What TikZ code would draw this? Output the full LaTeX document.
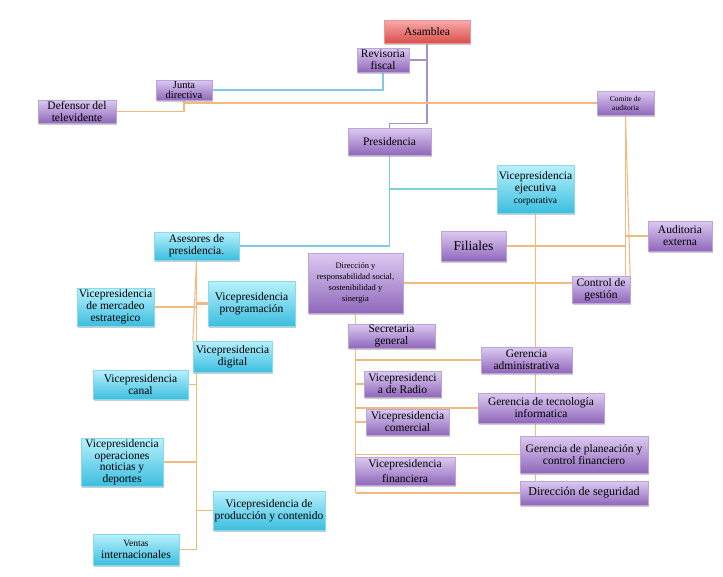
\documentclass[tikz,border=0pt]{standalone}
\usepackage{fontspec}
\setmainfont{Liberation Serif}
\usetikzlibrary{shadows,backgrounds}
\definecolor{moradoA}{HTML}{DCCAF2}
\definecolor{moradoB}{HTML}{9068BA}
\definecolor{cianA}{HTML}{B8F1FD}
\definecolor{cianB}{HTML}{3CBEDF}
\definecolor{rojoA}{HTML}{F9ABAA}
\definecolor{rojoB}{HTML}{D9504C}
\definecolor{naranja}{HTML}{F3BA7E}
\definecolor{lineacian}{HTML}{7ECDDF}
\definecolor{lineamorada}{HTML}{A793C8}
\begin{document}
\begin{tikzpicture}[x=1pt,y=-1pt]
	\tikzset{
		caja/.style={inner sep=0pt,align=center,text=black,line width=.3pt,
			font=\fontsize{11.5}{12}\selectfont,
			drop shadow={shadow xshift=1.2pt,shadow yshift=-1.8pt,opacity=.4}},
		morada/.style={caja,top color=moradoA,bottom color=moradoB,draw=moradoB!60!white},
		cian/.style={caja,top color=cianA,bottom color=cianB,draw=cianB!60!white},
		roja/.style={caja,top color=rojoA,bottom color=rojoB,draw=rojoB!60!white},
		lnaranja/.style={draw=naranja,line width=1.1pt},
		lcian/.style={draw=lineacian,line width=1.1pt},
		lmorada/.style={draw=lineamorada,line width=1.1pt}}
	\useasboundingbox (0,0) rectangle (723,576);
	% arriba
	\node[roja,minimum width=86,minimum height=23] (asamblea) at (427,31.5) {Asamblea};
	\node[morada,minimum width=52,minimum height=24] (revisoria) at (383,60) {Revisoria\\fiscal};
	\node[morada,minimum width=56,minimum height=20,font=\fontsize{10.5}{10.5}\selectfont] (junta) at (184,90) {Junta\\directiva};
	\node[morada,minimum width=78,minimum height=23] (defensor) at (77,111.5) {Defensor del\\televidente};
	\node[morada,minimum width=57,minimum height=24,font=\fontsize{7.5}{9}\selectfont] (comite) at (625.5,103) {Comite de\\auditoria};
	\node[morada,minimum width=83,minimum height=27] (presidencia) at (389.5,141.5) {Presidencia};
	\node[cian,minimum width=77,minimum height=48] (vpejec) at (535.5,189) {Vicepresidencia\\ejecutiva\\{\fontsize{9.5}{12}\selectfont corporativa}};
	% centro
	\node[cian,minimum width=85,minimum height=28] (asesores) at (196.5,246) {Asesores de\\presidencia.};
	\node[morada,minimum width=95,minimum height=60,font=\fontsize{8.5}{11}\selectfont] (direccion) at (355.5,283) {Dirección y\\responsabilidad social,\\sostenibilidad y\\sinergia};
	\node[morada,minimum width=65,minimum height=30,font=\fontsize{13.5}{14}\selectfont] (filiales) at (473.5,246) {Filiales};
	\node[morada,minimum width=64,minimum height=30] (auditoria) at (680,236) {Auditoria\\externa};
	\node[morada,minimum width=58,minimum height=27] (control) at (601,289.5) {Control de\\gestión};
	% izquierda
	\node[cian,minimum width=77,minimum height=38] (mercadeo) at (115.5,307) {Vicepresidencia\\de mercadeo\\estrategico};
	\node[cian,minimum width=87,minimum height=45] (programacion) at (251.5,303.5) {Vicepresidencia\\programación};
	\node[cian,minimum width=79,minimum height=31] (digital) at (232.5,356.5) {Vicepresidencia\\digital};
	\node[cian,minimum width=95,minimum height=29] (canal) at (140.5,384.5) {Vicepresidencia\\canal};
	\node[cian,minimum width=82,minimum height=48,font=\fontsize{11.5}{11.5}\selectfont] (operaciones) at (122,462) {Vicepresidencia\\operaciones\\noticias y\\deportes};
	\node[cian,minimum width=112,minimum height=39] (produccion) at (269,510.5) {Vicepresidencia de\\producción y contenido};
	\node[cian,minimum width=86,minimum height=31] (ventas) at (136,549.5) {{\fontsize{9.5}{11}\selectfont Ventas}\\internacionales};
	% derecha
	\node[morada,minimum width=87,minimum height=24] (secretaria) at (391.5,336) {Secretaria\\general};
	\node[morada,minimum width=91,minimum height=26] (gerenciaadm) at (526.5,360) {Gerencia\\administrativa};
	\node[morada,minimum width=77,minimum height=26] (radio) at (402.5,384) {Vicepresidenci\\a de Radio};
	\node[morada,minimum width=83,minimum height=26] (comercial) at (407.5,422) {Vicepresidencia\\comercial};
	\node[morada,minimum width=100,minimum height=28] (financiera) at (405,471) {Vicepresidencia\\[3pt]financiera};
	\node[morada,minimum width=126,minimum height=30] (tecnologia) at (541,408) {Gerencia de tecnología\\informatica};
	\node[morada,minimum width=128,minimum height=37] (planeacion) at (584,454.5) {Gerencia de planeación y\\control financiero};
	\node[morada,minimum width=128,minimum height=24,font=\fontsize{12}{12}\selectfont] (seguridad) at (584,493) {Dirección de seguridad};
	\begin{scope}[on background layer]
		\fill[white] (0,0) rectangle (723,576);
		\draw[lmorada] (asamblea.south) -- ++(0,80) -| (presidencia.north);
		\draw[lmorada] (revisoria.east) -- (revisoria.east -| asamblea.south);
		\draw[lcian] (revisoria.south) |- (junta.east);
		\draw[lnaranja] (junta.south) |- (defensor.east);
		\draw[lnaranja] (junta.south) |- (comite.west);
		\draw[lnaranja] (comite.south) -- (comite.south |- control.north);
		\draw[lnaranja] (comite.south) -- (control.north east);
		\draw[lnaranja] (auditoria.west) -- (auditoria.west -| comite.south);
		\draw[lnaranja] (filiales.east) -- (filiales.east -| comite.south);
		\draw[lnaranja] (direccion.east) -- (direccion.east -| control.west);
		\draw[lcian] (presidencia.south) |- (asesores.east);
		\draw[lcian] (presidencia.south) |- (vpejec.west);
		\draw[lnaranja] (vpejec.south) -- (vpejec.south |- seguridad.north);
		% rama izquierda
		\draw[lnaranja] (asesores.south) -- (asesores.south |- ventas.east);
		\draw[lnaranja] (asesores.south) -- (digital.north west);
		\draw[lnaranja] (mercadeo.east) -- (mercadeo.east -| asesores.south);
		\draw[lnaranja,line width=2.2pt] (programacion.west) -- (programacion.west -| asesores.south);
		\draw[lnaranja] (canal.east) -- (canal.east -| asesores.south);
		\draw[lnaranja] (operaciones.east) -- (operaciones.east -| asesores.south);
		\draw[lnaranja] (produccion.west) -- (produccion.west -| asesores.south);
		\draw[lnaranja] (ventas.east) -- (ventas.east -| asesores.south);
		% rama derecha
		\draw[lnaranja] (direccion.south) -- (direccion.south |- seguridad.west);
		\draw[lnaranja] (gerenciaadm.west) -- (gerenciaadm.west -| direccion.south);
		\draw[lnaranja] (radio.west) -- (radio.west -| direccion.south);
		\draw[lnaranja] (comercial.west) -- (comercial.west -| direccion.south);
		\draw[lnaranja] (tecnologia.west) -- (tecnologia.west -| direccion.south);
		\draw[lnaranja] (planeacion.west) -- (planeacion.west -| direccion.south);
		\draw[lnaranja] (seguridad.west) -- (seguridad.west -| direccion.south);
	\end{scope}
\end{tikzpicture}
\end{document}
